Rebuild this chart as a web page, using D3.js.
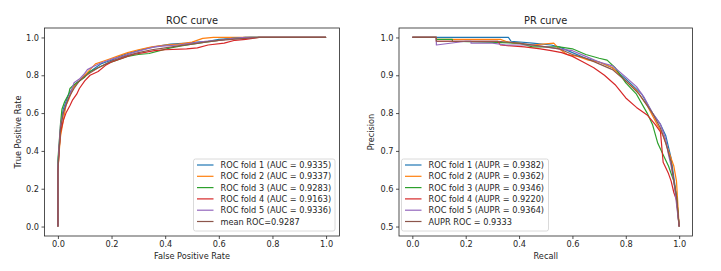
<!DOCTYPE html>
<html>
<head>
<meta charset="utf-8">
<script src="https://cdn.jsdelivr.net/npm/d3@7"></script>
<style>
  body { margin: 0; background: #fff; }
  svg text { font-family: "DejaVu Sans", sans-serif; fill: #262626; }
</style>
</head>
<body>
<div id="chart"></div>
<script>
// colours (matplotlib tab10)
var colors = ["#1f77b4", "#ff7f0e", "#2ca02c", "#d62728", "#9467bd", "#8c564b"];

var rocTicks = [0, 0.2, 0.4, 0.6, 0.8, 1.0];
var prXTicks = [0, 0.2, 0.4, 0.6, 0.8, 1.0];
var prYTicks = [0.5, 0.6, 0.7, 0.8, 0.9, 1.0];

var rocLabels = ["ROC fold 1 (AUC = 0.9335)", "ROC fold 2 (AUC = 0.9337)", "ROC fold 3 (AUC = 0.9283)",
                 "ROC fold 4 (AUC = 0.9163)", "ROC fold 5 (AUC = 0.9336)", "mean ROC=0.9287"];
var prLabels = ["ROC fold 1 (AUPR = 0.9382)", "ROC fold 2 (AUPR = 0.9362)", "ROC fold 3 (AUPR = 0.9346)",
                "ROC fold 4 (AUPR = 0.9220)", "ROC fold 5 (AUPR = 0.9364)", "AUPR ROC = 0.9333"];

// ROC points [fpr, tpr]
var roc1 = [[0,0],[0,0.33],[0.005,0.42],[0.01,0.52],[0.015,0.58],[0.02,0.62],[0.03,0.66],[0.04,0.70],[0.05,0.72],[0.06,0.74],[0.07,0.76],[0.08,0.77],[0.1,0.80],[0.12,0.82],[0.14,0.84],[0.16,0.86],[0.18,0.87],[0.2,0.88],[0.23,0.90],[0.26,0.915],[0.3,0.93],[0.34,0.945],[0.38,0.955],[0.42,0.965],[0.48,0.97],[0.52,0.975],[0.56,0.98],[0.6,0.99],[0.66,0.995],[0.72,1.0],[1,1]];
var roc2 = [[0,0],[0,0.3],[0.005,0.40],[0.01,0.48],[0.02,0.56],[0.025,0.6],[0.03,0.64],[0.04,0.67],[0.05,0.71],[0.06,0.74],[0.08,0.77],[0.1,0.8],[0.12,0.83],[0.14,0.86],[0.16,0.87],[0.19,0.885],[0.22,0.9],[0.26,0.92],[0.3,0.935],[0.35,0.95],[0.4,0.96],[0.45,0.965],[0.5,0.975],[0.54,0.995],[0.58,1.0],[1,1]];
var roc3 = [[0,0],[0,0.35],[0.005,0.45],[0.01,0.55],[0.015,0.62],[0.025,0.66],[0.04,0.70],[0.045,0.73],[0.06,0.75],[0.08,0.77],[0.1,0.79],[0.12,0.82],[0.15,0.84],[0.18,0.86],[0.22,0.88],[0.26,0.9],[0.3,0.91],[0.34,0.915],[0.38,0.93],[0.42,0.945],[0.46,0.955],[0.5,0.965],[0.55,0.975],[0.6,0.985],[0.65,0.995],[0.7,1.0],[1,1]];
var roc4 = [[0,0],[0,0.28],[0.005,0.42],[0.01,0.5],[0.02,0.56],[0.03,0.6],[0.045,0.64],[0.055,0.67],[0.07,0.70],[0.08,0.73],[0.1,0.77],[0.12,0.80],[0.15,0.82],[0.18,0.855],[0.2,0.87],[0.24,0.89],[0.28,0.91],[0.32,0.92],[0.36,0.93],[0.4,0.935],[0.48,0.94],[0.52,0.945],[0.56,0.96],[0.62,0.97],[0.66,0.985],[0.7,0.99],[0.75,1.0],[1,1]];
var roc5 = [[0,0],[0,0.32],[0.005,0.44],[0.01,0.54],[0.02,0.6],[0.03,0.65],[0.04,0.68],[0.05,0.72],[0.06,0.76],[0.08,0.78],[0.1,0.81],[0.11,0.83],[0.13,0.845],[0.16,0.865],[0.2,0.885],[0.24,0.9],[0.28,0.92],[0.32,0.935],[0.36,0.95],[0.4,0.955],[0.45,0.96],[0.5,0.97],[0.55,0.98],[0.6,0.985],[0.65,0.995],[0.7,1.0],[1,1]];
var rocMean = [[0,0],[0,0.3],[0.01,0.52],[0.02,0.6],[0.04,0.68],[0.06,0.73],[0.08,0.77],[0.1,0.795],[0.15,0.84],[0.2,0.875],[0.25,0.9],[0.3,0.92],[0.35,0.935],[0.4,0.945],[0.45,0.955],[0.5,0.965],[0.55,0.975],[0.6,0.985],[0.65,0.99],[0.7,0.995],[0.75,1.0],[1,1]];

// PR points [recall, precision]
var pr1 = [[0,1],[0.36,1],[0.37,0.99],[0.45,0.985],[0.52,0.98],[0.55,0.975],[0.6,0.96],[0.65,0.945],[0.7,0.935],[0.75,0.92],[0.8,0.89],[0.83,0.87],[0.86,0.85],[0.9,0.8],[0.93,0.77],[0.95,0.74],[0.96,0.71],[0.97,0.68],[0.98,0.63],[0.99,0.58],[1.0,0.5]];
var pr2 = [[0,1],[0.09,1],[0.09,0.995],[0.33,0.995],[0.35,0.99],[0.38,0.985],[0.45,0.98],[0.53,0.985],[0.55,0.97],[0.58,0.955],[0.62,0.95],[0.66,0.94],[0.7,0.935],[0.75,0.92],[0.8,0.885],[0.84,0.86],[0.88,0.82],[0.91,0.78],[0.94,0.74],[0.96,0.7],[0.98,0.66],[0.99,0.62],[1.0,0.5]];
var pr3 = [[0,1],[0.09,1],[0.09,0.995],[0.15,0.995],[0.15,0.99],[0.4,0.985],[0.45,0.975],[0.55,0.975],[0.6,0.97],[0.65,0.955],[0.7,0.945],[0.73,0.94],[0.76,0.92],[0.8,0.88],[0.84,0.85],[0.88,0.8],[0.9,0.77],[0.92,0.72],[0.94,0.69],[0.96,0.66],[0.98,0.62],[0.99,0.58],[1.0,0.5]];
var pr4 = [[0,1],[0.09,1],[0.09,0.99],[0.32,0.99],[0.33,0.98],[0.42,0.975],[0.48,0.97],[0.52,0.965],[0.56,0.96],[0.6,0.95],[0.64,0.935],[0.68,0.92],[0.72,0.9],[0.76,0.875],[0.8,0.84],[0.84,0.815],[0.88,0.795],[0.91,0.77],[0.93,0.75],[0.94,0.67],[0.96,0.64],[0.97,0.62],[0.98,0.59],[0.99,0.57],[1.0,0.5]];
var pr5 = [[0,1],[0.09,1],[0.09,0.98],[0.2,0.99],[0.22,0.99],[0.22,0.985],[0.3,0.985],[0.35,0.98],[0.45,0.98],[0.5,0.975],[0.55,0.97],[0.6,0.965],[0.65,0.95],[0.7,0.935],[0.75,0.925],[0.8,0.895],[0.84,0.87],[0.87,0.84],[0.9,0.8],[0.93,0.77],[0.95,0.73],[0.96,0.69],[0.97,0.66],[0.98,0.62],[1.0,0.5]];
var prMean = [[0,1],[0.09,1],[0.09,0.99],[0.32,0.99],[0.4,0.985],[0.5,0.975],[0.55,0.97],[0.6,0.955],[0.65,0.945],[0.7,0.93],[0.75,0.915],[0.8,0.885],[0.85,0.85],[0.9,0.8],[0.93,0.76],[0.95,0.72],[0.97,0.67],[0.98,0.62],[0.99,0.58],[1.0,0.5]];

var W = 721, H = 271;
var svg = d3.select("#chart").append("svg").attr("width", W).attr("height", H);

function drawPanel(o) {
  var x = d3.scaleLinear().domain(o.xDom).range([o.left, o.right]);
  var y = d3.scaleLinear().domain(o.yDom).range([o.bottom, o.top]);
  var g = svg.append("g");

  g.append("g")
    .attr("transform", "translate(0," + o.bottom + ")")
    .call(d3.axisBottom(x).tickValues(o.xTicks).tickFormat(d3.format(".1f")).tickSize(3).tickPadding(2.5))
    .call(function(a) { a.select(".domain").remove(); });
  g.append("g")
    .attr("transform", "translate(" + o.left + ",0)")
    .call(d3.axisLeft(y).tickValues(o.yTicks).tickFormat(d3.format(".1f")).tickSize(3).tickPadding(2.5))
    .call(function(a) { a.select(".domain").remove(); });
  g.selectAll(".tick text").style("font-size", "8.2px").style("fill", "#262626");
  g.selectAll(".tick line").attr("stroke", "#262626").attr("stroke-width", 0.8);

  var line = d3.line().x(function(d) { return x(d[0]); }).y(function(d) { return y(d[1]); });
  o.series.forEach(function(s, i) {
    g.append("path").datum(s)
      .attr("d", line).attr("fill", "none")
      .attr("stroke", colors[i]).attr("stroke-width", 1.2)
      .attr("stroke-linejoin", "round");
  });

  g.append("rect")
    .attr("x", o.left).attr("y", o.top)
    .attr("width", o.right - o.left).attr("height", o.bottom - o.top)
    .attr("fill", "none").attr("stroke", "#262626").attr("stroke-width", 0.8);

  g.append("text").attr("x", (o.left + o.right) / 2).attr("y", 24)
    .attr("text-anchor", "middle").style("font-size", "9.8px").text(o.title);
  g.append("text").attr("x", (o.left + o.right) / 2).attr("y", 259)
    .attr("text-anchor", "middle").style("font-size", "8.2px").text(o.xLabel);
  g.append("text")
    .attr("transform", "translate(" + o.yLabelX + "," + (o.top + o.bottom) / 2 + ") rotate(-90)")
    .attr("text-anchor", "middle").style("font-size", "8.2px").text(o.yLabel);

  // legend
  var lg = g.append("g").attr("transform", "translate(" + o.legX + "," + o.legY + ")");
  lg.append("rect").attr("width", o.legW).attr("height", 72).attr("rx", 2)
    .attr("fill", "#fff").attr("fill-opacity", 0.8).attr("stroke", "#d0d0d0").attr("stroke-width", 0.8);
  o.labels.forEach(function(t, i) {
    var yy = 6 + i * 11.3;
    lg.append("line").attr("x1", 3.5).attr("x2", 20).attr("y1", yy).attr("y2", yy)
      .attr("stroke", colors[i]).attr("stroke-width", 1.2);
    lg.append("text").attr("x", 27).attr("y", yy + 3).style("font-size", "8.2px").text(t);
  });
}

drawPanel({
  left: 44.5, right: 339.5, top: 28, bottom: 236,
  xDom: [-0.05, 1.05], yDom: [-0.05, 1.05],
  xTicks: rocTicks, yTicks: rocTicks,
  series: [roc1, roc2, roc3, roc4, roc5, rocMean],
  title: "ROC curve", xLabel: "False Positive Rate", yLabel: "True Positive Rate", yLabelX: 21,
  labels: rocLabels, legX: 193.5, legY: 159, legW: 141.5
});

drawPanel({
  left: 399, right: 692.5, top: 28, bottom: 236,
  xDom: [-0.05, 1.05], yDom: [0.475, 1.025],
  xTicks: prXTicks, yTicks: prYTicks,
  series: [pr1, pr2, pr3, pr4, pr5, prMean],
  title: "PR curve", xLabel: "Recall", yLabel: "Precision", yLabelX: 374,
  labels: prLabels, legX: 401.5, legY: 159, legW: 147
});
</script>
</body>
</html>
